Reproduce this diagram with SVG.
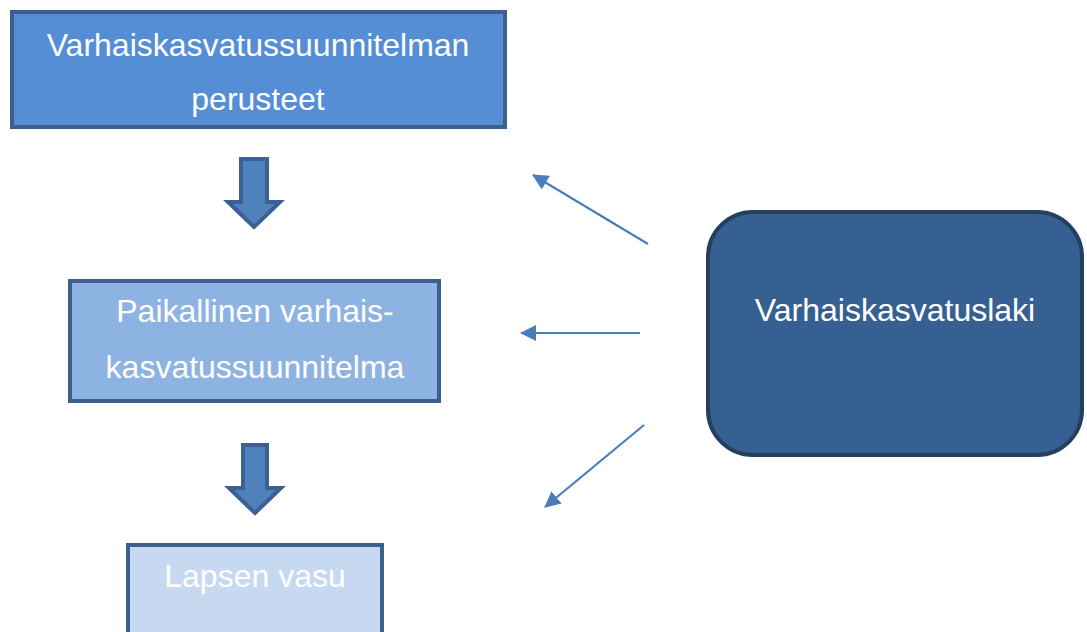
<svg xmlns="http://www.w3.org/2000/svg" width="1087" height="632" viewBox="0 0 1087 632">
<style>
.t{font-family:"Liberation Sans",Arial,sans-serif;font-size:32px;fill:#ffffff;text-anchor:middle}
.box{stroke:#3C5F8E;stroke-width:4}
.down{fill:#4F81BD;stroke:#3B6193;stroke-width:4;stroke-linejoin:miter}
.conn{stroke:#4A7EBB;stroke-width:2.2;fill:none}
</style>
<defs>
<marker id="ah" viewBox="0 0 16 16" markerWidth="16" markerHeight="16" refX="15" refY="8" orient="auto" markerUnits="userSpaceOnUse">
<path d="M0,0 L16,8 L0,16 Z" fill="#4A7EBB"/>
</marker>
</defs>
<rect width="1087" height="632" fill="#ffffff"/>
<g id="node-perusteet">
<rect class="box" x="12" y="12" width="493" height="115" fill="#558ED5"/>
<text class="t" x="258" y="56">Varhaiskasvatussuunnitelman</text>
<text class="t" x="258" y="110">perusteet</text>
</g>
<g id="node-paikallinen">
<rect class="box" x="70" y="281" width="369" height="120" fill="#8DB3E2"/>
<text class="t" x="255" y="322">Paikallinen varhais-</text>
<text class="t" x="255" y="378">kasvatussuunnitelma</text>
</g>
<g id="node-lapsen">
<rect class="box" x="128" y="545" width="254" height="100" fill="#C6D9F1"/>
<text class="t" x="255" y="587">Lapsen vasu</text>
</g>
<g id="node-laki">
<rect x="708" y="212" width="374" height="243" rx="45" ry="45" fill="#376092" stroke="#243F60" stroke-width="4"/>
<text class="t" x="895" y="321">Varhaiskasvatuslaki</text>
</g>
<g id="connectors">
<polygon class="down" points="241,159 267,159 267,202 280,202 254,227 228,202 241,202"/>
<polygon class="down" points="243,445 267,445 267,488 281,488 255,513 229,488 243,488"/>
<line class="conn" x1="648" y1="244" x2="533" y2="175" marker-end="url(#ah)"/>
<line class="conn" x1="640" y1="333" x2="521" y2="333" marker-end="url(#ah)"/>
<line class="conn" x1="644" y1="425" x2="545" y2="507" marker-end="url(#ah)"/>
</g>
</svg>
